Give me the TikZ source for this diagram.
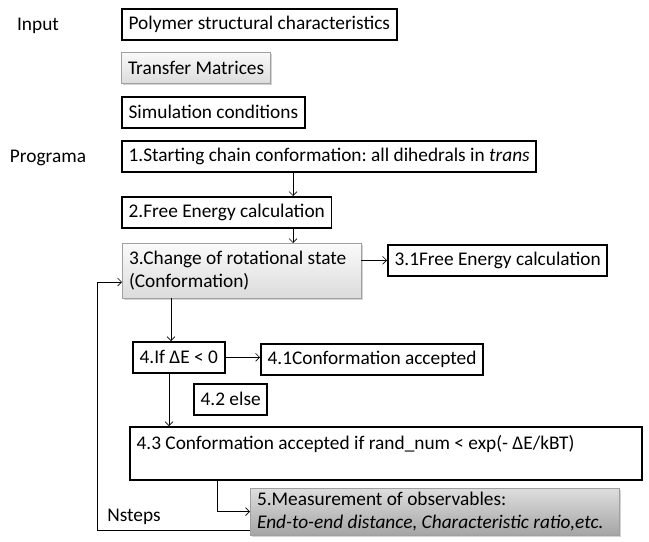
\documentclass[tikz,border=0pt]{standalone}
\usepackage{fontspec}
\setmainfont{Carlito}
\usepackage{tikz}
\usetikzlibrary{shadows,arrows.meta}
\frenchspacing
\definecolor{edgegray}{RGB}{160,160,160}
\definecolor{lighttop}{RGB}{250,250,250}
\definecolor{lightbot}{RGB}{220,220,220}
\definecolor{darktop}{RGB}{222,222,222}
\definecolor{darkbot}{RGB}{165,165,165}

\tikzset{
  plainbox/.style={draw,line width=1.4pt,anchor=north west,fill=white,
    inner xsep=5pt,inner ysep=3pt,minimum height=23pt,align=flush left},
  shadebox/.style={draw=edgegray,line width=0.5pt,anchor=north west,
    inner xsep=5pt,inner ysep=3pt,minimum height=23pt,align=flush left,
    top color=lighttop,bottom color=lightbot,
    drop shadow={shadow xshift=1.2pt,shadow yshift=-1.2pt,opacity=0.35}},
  darkbox/.style={shadebox,top color=darktop,bottom color=darkbot},
  flow/.style={->,line width=0.5pt}
}

\begin{document}
\begin{tikzpicture}[x=0.75pt,y=-0.75pt,>={Straight Barb[length=3pt,width=6pt]},
  font=\fontsize{14.5}{17}\selectfont]
  \useasboundingbox (0,0) rectangle (649,542);

  % input data
  \node (input) at (38,26) {Input};
  \node[plainbox] (poly) at (121,8) {Polymer structural characteristics};
  \node[shadebox] (tmat) at (121,52) {Transfer Matrices};
  \node[plainbox] (simc) at (121,96) {Simulation conditions};

  % program steps
  \node (prog) at (48,158) {Programa};
  \node[plainbox] (s1) at (121,140) {1.Starting chain conformation: all dihedrals in \textit{trans}};
  \node[plainbox] (s2) at (121,196) {2.Free Energy calculation};
  \node[shadebox,text width=169pt,minimum height=41pt] (s3) at (122,243) {3.Change of rotational state\\(Conformation)};
  \node[plainbox] (s31) at (387,244) {3.1Free Energy calculation};
  \node[plainbox] (s4) at (132,341) {4.If ΔE < 0};
  \node[plainbox] (s41) at (260,343) {4.1Conformation accepted};
  \node[plainbox] (s42) at (193,383) {4.2 else};
  \node[plainbox,text width=374pt,minimum height=40pt] (s43) at (129,426) {4.3 Conformation accepted if rand\_num < exp(- ΔE/kBT)\\ ~};
  \node[darkbox,text width=267pt] (s5) at (250,488) {5.Measurement of observables:\\\textit{End-to-end distance, Characteristic ratio,etc.}};
  \node (nst) at (134,517) {Nsteps};

  % connectors
  \coordinate (c12) at (293,0);
  \coordinate (c34) at (171,0);
  \coordinate (c443) at (169,0);
  \coordinate (c435) at (217,0);
  \coordinate (lbot) at (97,530);
  \coordinate (ltop) at (97,282);
  \draw[flow] (c12 |- s1.south) -- (c12 |- s2.north);
  \draw[flow] (c12 |- s2.south) -- (c12 |- s3.north);
  \draw[flow] (s3.east |- s31) -- (s31.west);
  \draw[flow] (c34 |- s3.south) -- (c34 |- s4.north);
  \draw[flow] (s4.east) -- (s4.east -| s41.west);
  \draw[flow] (c443 |- s4.south) -- (c443 |- s43.north);
  \draw[flow] (c435 |- s43.south) |- (s5.west);
  \draw[flow] (s5.west |- lbot) -- (lbot) -- (ltop) -- (ltop -| s3.west);
\end{tikzpicture}
\end{document}
